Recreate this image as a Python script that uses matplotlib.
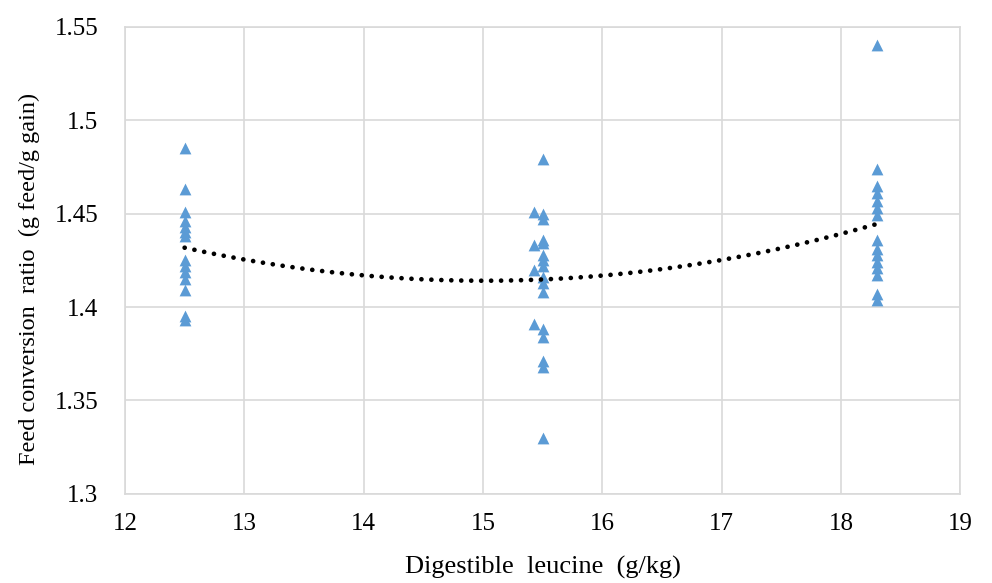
import numpy as np
import matplotlib.pyplot as plt

plt.rcParams['font.family'] = ['Liberation Serif', 'DejaVu Serif']

# digestible leucine (g/kg) and feed conversion ratio
x_low = [12.5] * 14
fcr_low = [1.485, 1.463, 1.451, 1.446, 1.443, 1.440, 1.438,
           1.425, 1.422, 1.419, 1.415, 1.409, 1.395, 1.393]

x_mid_a = [15.43] * 4
fcr_mid_a = [1.451, 1.433, 1.420, 1.391]
x_mid_b = [15.5] * 16
fcr_mid_b = [1.479, 1.450, 1.447, 1.436, 1.434, 1.428, 1.425, 1.422,
             1.416, 1.413, 1.408, 1.388, 1.384, 1.371, 1.368, 1.330]

x_high = [18.3] * 15
fcr_high = [1.540, 1.474, 1.465, 1.461, 1.457, 1.453, 1.449, 1.436,
            1.431, 1.428, 1.424, 1.421, 1.417, 1.407, 1.404]

xs = np.array(x_low + x_mid_a + x_mid_b + x_high)
ys = np.array(fcr_low + fcr_mid_a + fcr_mid_b + fcr_high)

fig = plt.figure(figsize=(9.92, 5.83), dpi=100)
ax = fig.add_axes([0.126, 0.153, 0.842, 0.801])

ax.scatter(xs, ys, marker='^', s=72, color='#5B9BD5', zorder=3, linewidths=0)

# second order trendline
coef = np.polyfit(xs, ys, 2)
xt = np.linspace(12.5, 18.3, 300)
ax.plot(xt, np.polyval(coef, xt), color='black', linestyle=(0, (0.01, 2.1)),
        linewidth=3.4, dash_capstyle='round', zorder=4)

ax.set_xlim(12, 19)
ax.set_ylim(1.3, 1.55)
ax.set_xticks(np.arange(12, 20, 1))
ax.set_yticks([1.3, 1.35, 1.4, 1.45, 1.5, 1.55])
ax.set_yticklabels(['1.3', '1.35', '1.4', '1.45', '1.5', '1.55'])
ax.grid(True, color='#d9d9d9', linewidth=1.2)
ax.set_axisbelow(True)
for s in ax.spines.values():
    s.set_color('#d9d9d9')
    s.set_linewidth(1.2)
ax.tick_params(length=0, labelsize=18)
ax.tick_params(axis='y', pad=19)
ax.tick_params(axis='x', pad=14)

ax.set_xlabel('Digestible  leucine  (g/kg)', fontsize=19)
ax.set_ylabel('Feed conversion  ratio  (g feed/g gain)', fontsize=17.5)
ax.xaxis.set_label_coords(0.5, -0.158, transform=ax.transAxes)
ax.yaxis.set_label_coords(-0.114, 0.46, transform=ax.transAxes)
ax.xaxis.label.set_va('center')
ax.yaxis.label.set_va('center')

fig.savefig('out.png', dpi=100)
